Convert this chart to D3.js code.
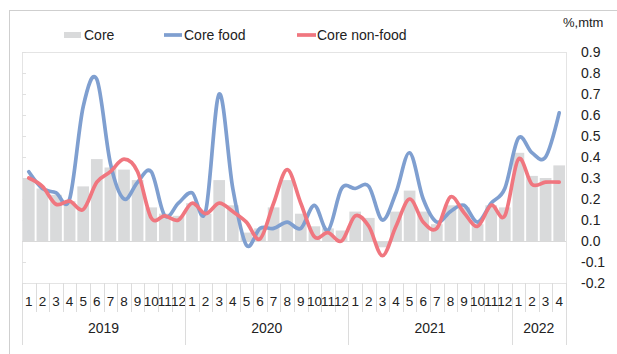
<!DOCTYPE html>
<html>
<head>
<meta charset="utf-8">
<script src="https://cdn.jsdelivr.net/npm/d3@7"></script>
<style>
  html, body { margin: 0; padding: 0; background: #fff; }
  svg { display: block; font-family: "Liberation Sans", Arial, sans-serif; }
</style>
</head>
<body>
<svg id="chart" width="617" height="354"></svg>
<script>
// Monthly core inflation, 2019-01 to 2022-04 (% month-to-month)
const years = ["2019", "2020", "2021", "2022"];
const monthsPerYear = [12, 12, 12, 4];
const monthLabels = [];
years.forEach((y, i) => { for (let m = 1; m <= monthsPerYear[i]; m++) monthLabels.push(String(m)); });

const core = [
  0.30, 0.25, 0.22, 0.19, 0.26, 0.39, 0.35, 0.34, 0.29, 0.16, 0.13, 0.12,
  0.18, 0.13, 0.29, 0.17, 0.04, 0.06, 0.16, 0.29, 0.13, 0.07, 0.06, 0.05,
  0.14, 0.11, -0.03, 0.14, 0.24, 0.14, 0.08, 0.17, 0.16, 0.08, 0.17, 0.16,
  0.42, 0.31, 0.30, 0.36
];
const coreFood = [
  0.33, 0.25, 0.23, 0.20, 0.64, 0.77, 0.37, 0.20, 0.28, 0.33, 0.12, 0.18,
  0.23, 0.14, 0.70, 0.25, -0.02, 0.06, 0.06, 0.09, 0.06, 0.17, 0.05, 0.25,
  0.25, 0.26, 0.10, 0.23, 0.42, 0.20, 0.09, 0.14, 0.17, 0.09, 0.18, 0.25,
  0.49, 0.42, 0.40, 0.61
];
const coreNonFood = [
  0.30, 0.26, 0.175, 0.19, 0.15, 0.28, 0.33, 0.39, 0.33, 0.11, 0.12, 0.10,
  0.18, 0.13, 0.18, 0.14, 0.09, 0.01, 0.18, 0.34, 0.18, 0.02, 0.04, 0.00,
  0.12, 0.07, -0.07, 0.07, 0.20, 0.09, 0.06, 0.21, 0.135, 0.07, 0.17, 0.12,
  0.39, 0.27, 0.28, 0.28
];
const yTicks = [-0.2, -0.1, 0.0, 0.1, 0.2, 0.3, 0.4, 0.5, 0.6, 0.7, 0.8, 0.9];

const colors = { core: "#d9dadb", food: "#7f9fd0", nonFood: "#f0767f", frame: "#d9d9d9", text: "#222" };

const svg = d3.select("#chart");
const plot = { left: 22, right: 566, top: 52, bottom: 283 };
const idx = d3.range(core.length);

const x = d3.scaleBand().domain(idx).range([plot.left, plot.right]).paddingInner(0.14).paddingOuter(0.07);
const step = x.step();
const cx = i => plot.left + step * (i + 0.5);
const y = d3.scaleLinear().domain([-0.2, 0.9]).range([plot.bottom, plot.top]);

// outer frame
svg.append("rect").attr("x", 9.5).attr("y", 10.5).attr("width", 640).attr("height", 400)
  .attr("fill", "none").attr("stroke", "#cfcfcf");

// plot frame
svg.append("rect").attr("x", plot.left + 0.5).attr("y", plot.top + 0.5)
  .attr("width", plot.right - plot.left).attr("height", plot.bottom - plot.top)
  .attr("fill", "none").attr("stroke", "#e4e4e4");

// left ticks
svg.append("g").selectAll("line").data(yTicks).join("line")
  .attr("x1", plot.left).attr("x2", plot.left + 4)
  .attr("y1", d => Math.round(y(d)) + 0.5).attr("y2", d => Math.round(y(d)) + 0.5)
  .attr("stroke", "#e0e0e0");

// bars
svg.append("g").selectAll("rect").data(core).join("rect")
  .attr("x", (d, i) => x(i))
  .attr("width", x.bandwidth())
  .attr("y", d => Math.min(y(d), y(0)))
  .attr("height", d => Math.abs(y(d) - y(0)))
  .attr("fill", colors.core);

// zero line
svg.append("line").attr("x1", plot.left).attr("x2", plot.right)
  .attr("y1", Math.round(y(0)) + 0.5).attr("y2", Math.round(y(0)) + 0.5)
  .attr("stroke", "#d9d9d9").attr("stroke-width", 1);

// smoothed lines
const line = d3.line().x((d, i) => cx(i)).y(d => y(d)).curve(d3.curveCardinal.tension(0));
svg.append("path").datum(coreFood).attr("d", line)
  .attr("fill", "none").attr("stroke", colors.food).attr("stroke-width", 3.7).attr("stroke-linecap", "round");
svg.append("path").datum(coreNonFood).attr("d", line)
  .attr("fill", "none").attr("stroke", colors.nonFood).attr("stroke-width", 3.7).attr("stroke-linecap", "round");

// right axis labels
svg.append("g").selectAll("text").data(yTicks).join("text")
  .attr("x", 581).attr("y", d => y(d)).attr("dy", "0.35em")
  .attr("font-size", 14).attr("fill", colors.text)
  .text(d => d3.format(".1f")(d).replace("−", "-"));
svg.append("text").attr("x", 563).attr("y", 27).attr("font-size", 13).attr("fill", colors.text).text("%,mtm");

// x axis: month labels and separators
const axis = svg.append("g");
idx.forEach(i => {
  axis.append("line").attr("x1", Math.round(plot.left + step * i) + 0.5).attr("x2", Math.round(plot.left + step * i) + 0.5)
    .attr("y1", plot.bottom).attr("y2", 312).attr("stroke", "#dcdcdc");
});
axis.selectAll("text.m").data(monthLabels).join("text").attr("class", "m")
  .attr("x", (d, i) => cx(i)).attr("y", 301).attr("dy", "0.35em")
  .attr("text-anchor", "middle").attr("font-size", 13.5).attr("fill", colors.text).text(d => d);

// year groups
let start = 0;
years.forEach((yr, k) => {
  const end = start + monthsPerYear[k];
  const xs = Math.round(plot.left + step * start) + 0.5;
  axis.append("line").attr("x1", xs).attr("x2", xs).attr("y1", plot.bottom).attr("y2", 345).attr("stroke", "#dcdcdc");
  axis.append("text").attr("x", plot.left + step * (start + end) / 2).attr("y", 328).attr("dy", "0.35em")
    .attr("text-anchor", "middle").attr("font-size", 14).attr("fill", colors.text).text(yr);
  start = end;
});
const xe = Math.round(plot.right) + 0.5;
axis.append("line").attr("x1", xe).attr("x2", xe).attr("y1", plot.bottom).attr("y2", 345).attr("stroke", "#dcdcdc");

// legend
const legend = svg.append("g").attr("font-size", 14).attr("fill", colors.text);
legend.append("rect").attr("x", 64).attr("y", 32).attr("width", 17).attr("height", 6).attr("fill", colors.core);
legend.append("text").attr("x", 84).attr("y", 35).attr("dy", "0.35em").text("Core");
legend.append("line").attr("x1", 164).attr("x2", 182).attr("y1", 35).attr("y2", 35)
  .attr("stroke", colors.food).attr("stroke-width", 3.7);
legend.append("text").attr("x", 184).attr("y", 35).attr("dy", "0.35em").text("Core food");
legend.append("line").attr("x1", 297).attr("x2", 316).attr("y1", 35).attr("y2", 35)
  .attr("stroke", colors.nonFood).attr("stroke-width", 3.7);
legend.append("text").attr("x", 317).attr("y", 35).attr("dy", "0.35em").text("Core non-food");
</script>
</body>
</html>
